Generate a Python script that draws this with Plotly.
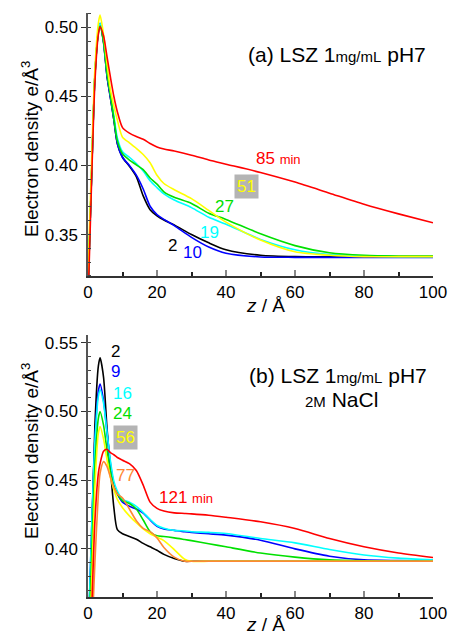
import plotly.graph_objects as go

# panel (a): LSZ 1 mg/mL pH7
Z_A = [0, 1, 2, 3, 3.5, 4.5, 5.5, 6.5, 7.5, 8.5, 10, 12, 14, 16, 18, 20, 22, 25, 30, 35, 40, 50, 60, 70, 80, 90, 100]
A_2 = [0.31, 0.39, 0.465, 0.497, 0.502, 0.489, 0.465, 0.449, 0.433, 0.416, 0.406, 0.3995, 0.392, 0.378, 0.368, 0.3635, 0.3605, 0.357, 0.350, 0.344, 0.339, 0.335, 0.334, 0.334, 0.334, 0.334, 0.334]
A_10 = [0.31, 0.39, 0.465, 0.497, 0.503, 0.490, 0.465, 0.449, 0.433, 0.416, 0.406, 0.400, 0.393, 0.383, 0.3705, 0.3645, 0.361, 0.3565, 0.348, 0.341, 0.3365, 0.3338, 0.3335, 0.3335, 0.3335, 0.3335, 0.3335]
A_19 = [0.31, 0.39, 0.465, 0.497, 0.503, 0.491, 0.468, 0.452, 0.436, 0.420, 0.410, 0.406, 0.4015, 0.396, 0.389, 0.384, 0.3795, 0.375, 0.3695, 0.3625, 0.3575, 0.3465, 0.339, 0.3355, 0.3345, 0.334, 0.334]
A_27 = [0.31, 0.39, 0.465, 0.496, 0.501, 0.490, 0.467, 0.451, 0.434, 0.418, 0.4085, 0.404, 0.4005, 0.397, 0.391, 0.3865, 0.381, 0.377, 0.3725, 0.3655, 0.361, 0.3505, 0.342, 0.3368, 0.335, 0.3345, 0.3345]
A_51 = [0.32, 0.40, 0.470, 0.503, 0.509, 0.495, 0.474, 0.455, 0.443, 0.433, 0.4205, 0.4165, 0.4125, 0.408, 0.402, 0.393, 0.387, 0.3825, 0.376, 0.3675, 0.359, 0.346, 0.3375, 0.335, 0.334, 0.334, 0.334]
A_85 = [0.30, 0.385, 0.460, 0.495, 0.5005, 0.494, 0.479, 0.464, 0.450, 0.439, 0.4275, 0.4235, 0.421, 0.419, 0.416, 0.4135, 0.412, 0.4105, 0.4075, 0.404, 0.401, 0.395, 0.388, 0.380, 0.372, 0.365, 0.3585]

# panel (b): LSZ 1 mg/mL pH7, 2M NaCl
Z_B = [0, 1, 2, 3, 3.5, 4.5, 5.5, 6.5, 7.5, 8.5, 10, 12, 14, 16, 18, 20, 22, 25, 28, 30, 35, 40, 50, 60, 70, 80, 90, 100]
B_2 = [0.33, 0.40, 0.490, 0.533, 0.539, 0.525, 0.488, 0.458, 0.430, 0.414, 0.411, 0.409, 0.407, 0.404, 0.4015, 0.399, 0.396, 0.393, 0.391, 0.391, 0.391, 0.391, 0.391, 0.391, 0.391, 0.391, 0.391, 0.391]
B_9 = [0.33, 0.41, 0.480, 0.515, 0.520, 0.508, 0.485, 0.462, 0.447, 0.440, 0.434, 0.431, 0.429, 0.426, 0.421, 0.4165, 0.4145, 0.4135, 0.4125, 0.412, 0.411, 0.410, 0.4063, 0.400, 0.3947, 0.392, 0.3915, 0.3912]
B_16 = [0.33, 0.41, 0.478, 0.511, 0.516, 0.506, 0.485, 0.464, 0.449, 0.442, 0.436, 0.434, 0.431, 0.4265, 0.4215, 0.417, 0.415, 0.4135, 0.413, 0.4125, 0.412, 0.4112, 0.4076, 0.4044, 0.3995, 0.3956, 0.3933, 0.392]
B_24 = [0.32, 0.39, 0.460, 0.495, 0.500, 0.490, 0.472, 0.456, 0.445, 0.440, 0.435, 0.433, 0.429, 0.421, 0.4125, 0.4095, 0.409, 0.408, 0.4068, 0.406, 0.4038, 0.4015, 0.397, 0.394, 0.392, 0.3913, 0.391, 0.391]
B_56 = [0.31, 0.37, 0.445, 0.484, 0.489, 0.480, 0.465, 0.452, 0.443, 0.436, 0.430, 0.424, 0.419, 0.4145, 0.411, 0.4085, 0.406, 0.3995, 0.3925, 0.391, 0.391, 0.391, 0.391, 0.391, 0.391, 0.391, 0.391, 0.391]
B_77 = [0.29, 0.33, 0.390, 0.440, 0.455, 0.4635, 0.460, 0.452, 0.445, 0.440, 0.437, 0.429, 0.4205, 0.415, 0.4125, 0.408, 0.401, 0.394, 0.391, 0.391, 0.391, 0.391, 0.391, 0.391, 0.391, 0.391, 0.391, 0.391]
B_121 = [0.28, 0.35, 0.420, 0.455, 0.462, 0.471, 0.4725, 0.470, 0.4685, 0.4665, 0.4645, 0.462, 0.457, 0.4464, 0.434, 0.4295, 0.4275, 0.4262, 0.4258, 0.4255, 0.4245, 0.423, 0.4197, 0.4148, 0.4075, 0.4015, 0.397, 0.3937]

COLORS = {"black": "#000000", "blue": "#0000ff", "cyan": "#00ffff", "green": "#00e000",
          "yellow": "#ffff00", "orange": "#ff8833", "red": "#ff0000"}

series_a = [(A_2, "black"), (A_10, "blue"), (A_19, "cyan"), (A_27, "green"), (A_51, "yellow"), (A_85, "red")]
series_b = [(B_2, "black"), (B_9, "blue"), (B_16, "cyan"), (B_24, "green"), (B_56, "yellow"), (B_77, "orange"), (B_121, "red")]

FONT = "Liberation Sans, Arial, sans-serif"

fig = go.Figure()
for vals, c in series_a:
  fig.add_trace(go.Scatter(x=Z_A, y=vals, mode="lines", line=dict(color=COLORS[c], width=1.6, shape="spline", smoothing=0.7),
                           xaxis="x", yaxis="y", showlegend=False))
for vals, c in series_b:
  fig.add_trace(go.Scatter(x=Z_B, y=vals, mode="lines", line=dict(color=COLORS[c], width=1.6, shape="spline", smoothing=0.7),
                           xaxis="x2", yaxis="y2", showlegend=False))

xax = dict(range=[0, 100], tickvals=[0, 20, 40, 60, 80, 100], ticks="inside", ticklen=6, tickwidth=1.5,
           tickcolor="#888", showline=True, linecolor="#333", linewidth=1.5, showgrid=False, zeroline=False,
           tickfont=dict(size=17, color="black", family=FONT), automargin=False,
           minor=dict(dtick=10, tick0=0, ticks="inside", ticklen=4, tickcolor="#222", showgrid=False))
yax = dict(ticks="outside", ticklen=5, tickcolor="#333", showline=True, linecolor="#555", linewidth=1.5,
           showgrid=False, zeroline=False, tickformat=".2f", dtick=0.05,
           tickfont=dict(size=17, color="black", family=FONT), automargin=False,
           minor=dict(dtick=0.01, ticks="inside", ticklen=3, tickcolor="#444", showgrid=False))

fig.update_layout(
  width=451, height=633,
  margin=dict(l=88, r=18, t=13, b=36),
  paper_bgcolor="white", plot_bgcolor="white",
  font=dict(family=FONT, color="black"),
  xaxis=dict(domain=[0, 1], anchor="y", **xax),
  yaxis=dict(domain=[0.5497, 1.0], anchor="x", range=[0.32, 0.5105], tick0=0.35, **yax),
  xaxis2=dict(domain=[0, 1], anchor="y2", **xax),
  yaxis2=dict(domain=[0, 0.4486], anchor="x2", range=[0.365, 0.5556], tick0=0.40, **yax),
)

ann = []
def label(text, x, y, color, ax="x", ay="y", size=17, bg=None):
  d = dict(text=text, x=x, y=y, xref=ax, yref=ay, showarrow=False, xanchor="center", yanchor="middle",
           font=dict(size=size, color=color, family=FONT))
  if bg:
    d.update(bgcolor=bg, borderpad=2)
  ann.append(d)

# panel (a) labels
label("(a) LSZ 1<span style='font-size:15px'>mg/mL</span> pH7", 72.2, 0.4801, "black", size=21)
label("85 <span style='font-size:13px'>min</span>", 55.1, 0.4054, COLORS["red"])
label("51", 45.8, 0.385, COLORS["yellow"], bg="#b4b4b4")
label("27", 39.7, 0.3705, COLORS["green"])
label("19", 35.1, 0.3517, COLORS["cyan"])
label("2", 24.6, 0.3422, "black")
label("10", 30.4, 0.3372, COLORS["blue"])

# panel (b) labels
label("(b) LSZ 1<span style='font-size:15px'>mg/mL</span> pH7", 72.5, 0.5265, "black", "x2", "y2", size=21)
label("<span style='font-size:15px'>2M</span> NaCl", 73.6, 0.509, "black", "x2", "y2", size=21)
label("2", 8.1, 0.5433, "black", "x2", "y2")
label("9", 8.1, 0.5287, COLORS["blue"], "x2", "y2")
label("16", 9.9, 0.5127, COLORS["cyan"], "x2", "y2")
label("24", 10.1, 0.4988, COLORS["green"], "x2", "y2")
label("56", 11.0, 0.4814, COLORS["yellow"], "x2", "y2", bg="#b4b4b4")
label("77", 11.0, 0.4537, COLORS["orange"], "x2", "y2")
label("121 <span style='font-size:13px'>min</span>", 28.4, 0.4377, COLORS["red"], "x2", "y2")

# axis titles
ytitle = "Electron density e/Å<sup>3</sup>"
for yc in [(597 - 149) / 584, (597 - 451) / 584]:
  ann.append(dict(text=ytitle, x=(30 - 88) / 345, y=yc, xref="paper", yref="paper", showarrow=False,
                  xanchor="center", yanchor="middle", textangle=-90,
                  font=dict(size=19, color="black", family=FONT)))
for yc in [(597 - 305) / 584, (597 - 624) / 584]:
  ann.append(dict(text="<i>z</i> / Å", x=(265 - 88) / 345, y=yc, xref="paper", yref="paper", showarrow=False,
                  xanchor="center", yanchor="middle", font=dict(size=19, color="black", family=FONT)))

fig.update_layout(annotations=ann)
fig.write_html("out.html", config={"displayModeBar": False},
               post_script="document.body.style.margin='0';document.body.style.overflow='hidden';")
